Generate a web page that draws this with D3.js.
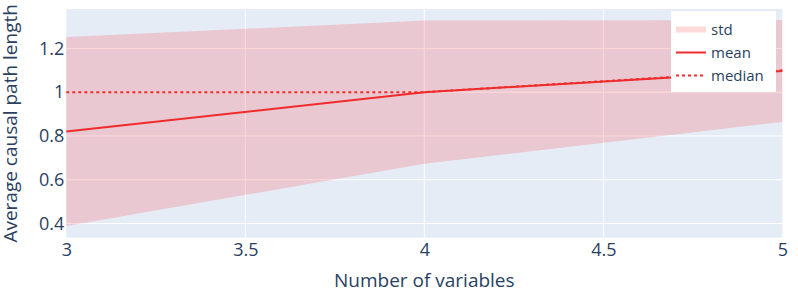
<!DOCTYPE html>
<html>
<head>
<meta charset="utf-8">
<script src="https://cdn.jsdelivr.net/npm/d3@7"></script>
<style>
  body { margin: 0; background: #fff; }
  svg text { font-family: "Open Sans", verdana, arial, sans-serif; fill: #2a3f5f; }
</style>
</head>
<body>
<div id="chart"></div>
<script>
// data
var nVars = [3, 4, 5];
var meanVals = [0.82, 1.0, 1.097];
var medianVals = [1.0, 1.0, 1.1];
var stdVals = [0.432, 0.327, 0.233];
var xTicks = [3, 3.5, 4, 4.5, 5];
var yTicks = [0.4, 0.6, 0.8, 1, 1.2];
var legendNames = ["std", "mean", "median"];

var W = 798, H = 295;
var margin = {left: 66.3, right: 15.7, top: 9, bottom: 57.3};

var svg = d3.select("#chart").append("svg")
    .attr("width", W)
    .attr("height", H);

var x = d3.scaleLinear().domain([3, 5]).range([margin.left, W - margin.right]);
var y = d3.scaleLinear().domain([0.335, 1.38]).range([H - margin.bottom, margin.top]);

var lineColor = "#ef2b2b";
var bandColor = "rgba(255,0,0,0.15)";

// plot background
svg.append("rect")
    .attr("x", x(3)).attr("y", y(1.38))
    .attr("width", x(5) - x(3)).attr("height", y(0.335) - y(1.38))
    .attr("fill", "#e5ecf6");

// grid
svg.append("g").selectAll("line").data(xTicks.slice(1, -1)).join("line")
    .attr("x1", d => x(d)).attr("x2", d => x(d))
    .attr("y1", y(1.38)).attr("y2", y(0.335))
    .attr("stroke", "#fff").attr("stroke-width", 1);
svg.append("g").selectAll("line").data(yTicks).join("line")
    .attr("x1", x(3)).attr("x2", x(5))
    .attr("y1", d => y(d)).attr("y2", d => y(d))
    .attr("stroke", "#fff").attr("stroke-width", 1);

var rows = nVars.map(function(v, i) {
    return {x: v, mean: meanVals[i], median: medianVals[i], std: stdVals[i]};
});

// std band
var area = d3.area()
    .x(d => x(d.x))
    .y0(d => y(d.mean - d.std))
    .y1(d => y(d.mean + d.std));
svg.append("path").datum(rows)
    .attr("d", area)
    .attr("fill", bandColor);

var meanLine = d3.line().x(d => x(d.x)).y(d => y(d.mean));
var medianLine = d3.line().x(d => x(d.x)).y(d => y(d.median));

svg.append("path").datum(rows)
    .attr("d", meanLine)
    .attr("fill", "none").attr("stroke", lineColor).attr("stroke-width", 2);
svg.append("path").datum(rows)
    .attr("d", medianLine)
    .attr("fill", "none").attr("stroke", lineColor).attr("stroke-width", 2)
    .attr("stroke-dasharray", "3,3");

// axes
var xAxis = svg.append("g")
    .attr("transform", "translate(0," + (H - margin.bottom) + ")")
    .call(d3.axisBottom(x).tickValues(xTicks).tickSize(0).tickPadding(6).tickFormat(d3.format("")));
var yAxis = svg.append("g")
    .attr("transform", "translate(" + margin.left + ",0)")
    .call(d3.axisLeft(y).tickValues(yTicks).tickSize(0).tickPadding(2).tickFormat(d3.format("")));
[xAxis, yAxis].forEach(function(g) {
    g.select(".domain").remove();
    g.selectAll("text").attr("font-size", 18).style("fill", "#2a3f5f")
        .attr("font-family", "\"Open Sans\", verdana, arial, sans-serif");
});

svg.append("text")
    .attr("x", (x(3) + x(5)) / 2).attr("y", 287)
    .attr("text-anchor", "middle")
    .attr("font-size", 19)
    .text("Number of variables");

svg.append("text")
    .attr("transform", "translate(17," + ((y(1.38) + y(0.335)) / 2) + ") rotate(-90)")
    .attr("text-anchor", "middle")
    .attr("font-size", 19)
    .text("Average causal path length");

// legend
var leg = svg.append("g").attr("transform", "translate(671,11)");
leg.append("rect").attr("width", 105).attr("height", 81).attr("fill", "#fff");
var items = leg.selectAll("g").data(legendNames).join("g")
    .attr("transform", (d, i) => "translate(0," + (18.5 + i * 23) + ")");
items.each(function(d, i) {
    var g = d3.select(this);
    if (i === 0) {
        g.append("rect").attr("x", 5).attr("y", -3).attr("width", 30).attr("height", 6)
            .attr("fill", bandColor);
    } else {
        g.append("line").attr("x1", 5).attr("x2", 35).attr("y1", 0).attr("y2", 0)
            .attr("stroke", lineColor).attr("stroke-width", 2)
            .attr("stroke-dasharray", i === 2 ? "3,3" : null);
    }
    g.append("text").attr("x", 40).attr("y", 5.5).attr("font-size", 15).text(d);
});
</script>
</body>
</html>
